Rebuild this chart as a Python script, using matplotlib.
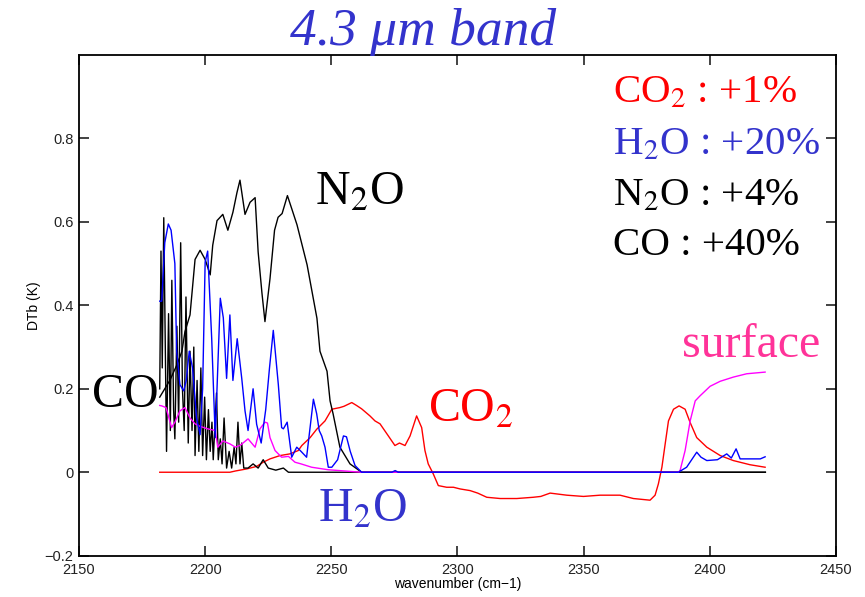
import numpy as np
import matplotlib.pyplot as plt

plt.rcParams['mathtext.fontset'] = 'stix'

# CO2 +1% response (red)
co2_x = [2182, 2205, 2209.8, 2212, 2216.5, 2220.4, 2223, 2225.7, 2229.7, 2233.6, 2236.9,
         2238.3, 2241.6, 2244.2, 2247.5, 2250.2, 2253.4, 2255, 2258.1, 2260, 2262, 2265.3,
         2267.3, 2269.3, 2272.6, 2275.2, 2277, 2279.2, 2281.2, 2283.8, 2285.8, 2287.1,
         2288.4, 2290.4, 2292.4, 2295.7, 2298.4, 2301, 2305, 2308, 2311.6, 2316.9, 2323.5,
         2330, 2333, 2336.7, 2343.3, 2349.9, 2356.5, 2364.4, 2369.7, 2376.3, 2378.3, 2379.6,
         2381, 2382.3, 2383.6, 2385.6, 2387.8, 2390.2, 2392.2, 2394.8, 2398.8, 2404.1,
         2409.3, 2415.9, 2421.9]
co2_y = [0.0, 0.0, 0.0, 0.003, 0.008, 0.014, 0.024, 0.032, 0.04, 0.044, 0.052,
         0.064, 0.083, 0.103, 0.123, 0.151, 0.155, 0.158, 0.167, 0.160, 0.152, 0.135,
         0.123, 0.116, 0.087, 0.064, 0.070, 0.064, 0.087, 0.135, 0.107, 0.052,
         0.020, -0.004, -0.032, -0.036, -0.036, -0.040, -0.044, -0.050, -0.060, -0.063, -0.063,
         -0.060, -0.058, -0.050, -0.055, -0.058, -0.055, -0.055, -0.063, -0.067, -0.055, -0.028,
         0.012, 0.068, 0.123, 0.151, 0.159, 0.151, 0.119, 0.083, 0.060, 0.040,
         0.028, 0.018, 0.012]

# H2O +20% response (blue)
h2o_x = [2182, 2182.8, 2184, 2185.4, 2186.5, 2188, 2188.7, 2190, 2191.5, 2192.5, 2193.7,
         2195, 2196.6, 2198, 2199, 2200, 2201, 2202.6, 2204, 2206, 2207.2, 2208.5, 2209.8,
         2211, 2212.7, 2214.5, 2215.8, 2217, 2219, 2220.4, 2222.2, 2224, 2225.5, 2227,
         2229, 2230.3, 2231, 2232.5, 2234.3, 2236.3, 2238, 2240.2, 2242.9, 2244.2, 2245.2,
         2246.2, 2247.5, 2248.8, 2250.2, 2252.5, 2254.8, 2256, 2257.5, 2259.4, 2262,
         2274, 2275.3, 2276.5, 2386, 2387.5, 2390.8, 2394.8, 2396.5, 2398.8, 2403,
         2406.7, 2408.5, 2410.4, 2412, 2420, 2421.9]
h2o_y = [0.41, 0.41, 0.55, 0.595, 0.58, 0.50, 0.29, 0.21, 0.195, 0.22, 0.29,
         0.25, 0.13, 0.09, 0.20, 0.504, 0.53, 0.32, 0.083, 0.417, 0.37, 0.225, 0.377,
         0.22, 0.32, 0.225, 0.147, 0.10, 0.20, 0.115, 0.07, 0.15, 0.25, 0.34,
         0.21, 0.107, 0.104, 0.12, 0.036, 0.06, 0.05, 0.036, 0.175, 0.14, 0.10,
         0.087, 0.06, 0.012, 0.012, 0.03, 0.087, 0.085, 0.05, 0.016, 0.0,
         0.0, 0.004, 0.0, 0.0, 0.0, 0.012, 0.048, 0.036, 0.028, 0.030,
         0.044, 0.034, 0.056, 0.032, 0.032, 0.037]

# N2O +4% response (black, broad)
n2o_x = [2182, 2186, 2189, 2190.8, 2192, 2194, 2196, 2198, 2200, 2202, 2203, 2204.7, 2207,
         2209, 2211, 2212.6, 2213.8, 2215.8, 2217.8, 2219.8, 2221, 2222.5, 2223.7, 2225.7,
         2227.5, 2228.9, 2230.5, 2232.6, 2234.4, 2236.4, 2240.4, 2244.3, 2245.5, 2248.3,
         2249.5, 2250.7, 2253.4, 2257.4, 2262, 2422]
n2o_y = [0.18, 0.22, 0.26, 0.29, 0.337, 0.377, 0.51, 0.532, 0.51, 0.473, 0.544, 0.603, 0.618,
         0.58, 0.623, 0.67, 0.70, 0.618, 0.647, 0.658, 0.528, 0.43, 0.361, 0.464,
         0.58, 0.611, 0.62, 0.663, 0.63, 0.593, 0.497, 0.369, 0.29, 0.242,
         0.171, 0.14, 0.06, 0.02, 0.0, 0.0]

# CO +40% response (black, spiky)
co_x = [2182.0, 2182.5, 2183.0, 2183.6, 2184.7, 2185.5, 2186.2, 2186.8, 2187.5, 2188.0,
        2188.8, 2189.5, 2190.3, 2191.0, 2191.7, 2192.4, 2193.3, 2194.0, 2194.8, 2195.5,
        2196.0, 2196.8, 2197.5, 2198.3, 2199.0, 2199.8, 2200.5, 2201.3, 2202.0, 2202.7,
        2203.2, 2204.5, 2205.2, 2206.0, 2206.7, 2207.5, 2208.5, 2209.5, 2210.5, 2211.5,
        2212.2, 2213.0, 2213.8, 2214.5, 2215.3, 2217, 2219, 2221, 2223, 2225, 2228,
        2231, 2233, 2236, 2240, 2422]
co_y = [0.20, 0.53, 0.25, 0.61, 0.05, 0.38, 0.10, 0.46, 0.15, 0.08,
        0.35, 0.12, 0.55, 0.20, 0.10, 0.42, 0.07, 0.29, 0.10, 0.30,
        0.04, 0.22, 0.05, 0.25, 0.04, 0.18, 0.03, 0.15, 0.05, 0.12,
        0.03, 0.19, 0.03, 0.08, 0.02, 0.13, 0.01, 0.05, 0.01, 0.06,
        0.02, 0.12, 0.02, 0.07, 0.01, 0.01, 0.02, 0.01, 0.03, 0.01, 0.005,
        0.01, 0.0, 0.0, 0.0, 0.0]

# surface temperature response (magenta)
srf_x = [2182, 2182.8, 2184.5, 2186.7, 2188, 2190, 2192, 2194, 2196, 2198, 2201, 2204,
         2205, 2207, 2209.8, 2212, 2214, 2217, 2219.8, 2221.7, 2223.7, 2224.7, 2225.7,
         2227.7, 2230.3, 2233, 2235.6, 2238, 2242.2, 2248.7, 2262, 2387.5, 2388.2,
         2390.2, 2392.2, 2394.2, 2396.1, 2400.1, 2404.1, 2409.3, 2414.6, 2421.9]
srf_y = [0.16, 0.159, 0.155, 0.107, 0.12, 0.147, 0.155, 0.13, 0.116, 0.11, 0.104, 0.10,
         0.06, 0.075, 0.068, 0.06, 0.065, 0.08, 0.06, 0.104, 0.12, 0.118, 0.083,
         0.052, 0.036, 0.038, 0.024, 0.02, 0.012, 0.006, 0.0, 0.0, 0.004,
         0.052, 0.123, 0.171, 0.183, 0.206, 0.218, 0.228, 0.236, 0.240]

xticks = [2150, 2200, 2250, 2300, 2350, 2400, 2450]
yticks = [-0.2, 0, 0.2, 0.4, 0.6, 0.8]

fig = plt.figure(figsize=(8.65, 5.97), dpi=100)
ax = fig.add_axes([0.0913, 0.0692, 0.8752, 0.8387])

ax.plot(co2_x, co2_y, color='#ff0000', lw=1.0)
ax.plot(n2o_x, n2o_y, color='black', lw=1.0)
ax.plot(co_x, co_y, color='black', lw=1.0)
ax.plot(srf_x, srf_y, color='#ff00ff', lw=1.0)
ax.plot(h2o_x, h2o_y, color='#0000ff', lw=1.0)

ax.set_xlim(2150, 2450)
ax.set_ylim(-0.2, 1.0)
ax.set_xticks(xticks)
ax.set_yticks(yticks)
ax.set_yticklabels(['\u22120.2', '0', '0.2', '0.4', '0.6', '0.8'])
ax.tick_params(direction='in', top=True, right=True, length=7, width=1.2,
               labelsize=10.5, colors='#222222')
ax.tick_params(axis='x', pad=5)
ax.tick_params(axis='y', pad=4)
for lab in ax.get_xticklabels() + ax.get_yticklabels():
    lab.set_family('Liberation Sans')
for s in ax.spines.values():
    s.set_linewidth(1.3)
ax.set_xlabel('wavenumber (cm\u22121)', fontsize=10, family='Liberation Sans', labelpad=0)
ax.set_ylabel('DTb (K)', fontsize=10, family='Liberation Sans')
ax.yaxis.set_label_coords(-0.05, 0.5)

serif = 'Liberation Serif'
fig.text(0.3353, 0.9246, '4.3 \u03bcm band', ha='left', va='baseline',
         fontsize=38.5, family=serif, style='italic', color='#3333cc')

legend_lines = [('CO$_2$ : +1%', '#ff0000', 0.885), ('H$_2$O : +20%', '#3333cc', 0.762),
                ('N$_2$O : +4%', 'black', 0.639), ('CO : +40%', 'black', 0.52)]
for txt, c, yb in legend_lines:
    ax.text(2361.8, yb, txt, ha='left', va='baseline', fontsize=29.5, family=serif, color=c)

lbl = dict(fontsize=34.5, family=serif, ha='left', va='baseline')
ax.text(2243.5, 0.64, 'N$_2$O', color='black', **lbl)
ax.text(2155.2, 0.156, 'CO', color='black', **lbl)
ax.text(2288.4, 0.12, 'CO$_2$', color='#ff0000', **lbl)
ax.text(2244.9, -0.119, 'H$_2$O', color='#3333cc', **lbl)
ax.text(2388.9, 0.275, 'surface', color='#ff3399', **lbl)

fig.savefig('out.png', dpi=100)
